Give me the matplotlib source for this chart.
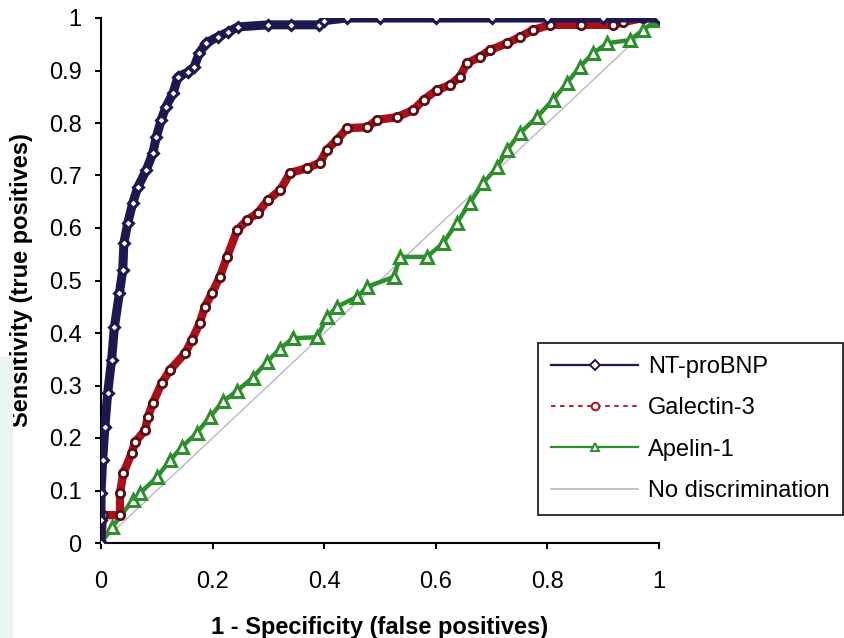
import numpy as np
import matplotlib
matplotlib.use("Agg")
import matplotlib.pyplot as plt
from matplotlib.lines import Line2D
from matplotlib.patches import Rectangle
from matplotlib.ticker import FormatStrFormatter

plt.rcParams['font.family'] = ['Liberation Sans', 'DejaVu Sans']

# ROC curves
nt_x = [0, 0.0, 0.0, 0.003, 0.007, 0.012, 0.019, 0.024, 0.033, 0.039, 0.041, 0.048,
        0.057, 0.066, 0.081, 0.093, 0.099, 0.108, 0.116, 0.129, 0.138, 0.156, 0.167,
        0.176, 0.188, 0.209, 0.227, 0.245, 0.30, 0.34, 0.39, 0.40, 0.44, 0.5, 0.6,
        0.7, 0.8, 0.9, 1.0]
nt_y = [0, 0.044, 0.095, 0.158, 0.221, 0.286, 0.349, 0.411, 0.476, 0.52, 0.571, 0.61,
        0.648, 0.678, 0.71, 0.743, 0.773, 0.806, 0.83, 0.857, 0.888, 0.897, 0.907,
        0.933, 0.952, 0.964, 0.973, 0.983, 0.987, 0.987, 0.987, 0.995, 1.0, 1.0, 1.0,
        1.0, 1.0, 1.0, 1.0]

gal_x = [0, 0.004, 0.034, 0.034, 0.040, 0.055, 0.061, 0.079, 0.084, 0.093, 0.109,
         0.124, 0.151, 0.163, 0.177, 0.186, 0.199, 0.213, 0.226, 0.244, 0.262, 0.281,
         0.299, 0.321, 0.339, 0.369, 0.392, 0.405, 0.423, 0.441, 0.477, 0.495, 0.53,
         0.56, 0.578, 0.602, 0.625, 0.643, 0.656, 0.679, 0.697, 0.728, 0.751, 0.774,
         0.805, 0.86, 0.918, 0.935, 0.971, 1.0]
gal_y = [0, 0.053, 0.053, 0.095, 0.133, 0.171, 0.192, 0.215, 0.24, 0.267, 0.305,
         0.33, 0.362, 0.387, 0.419, 0.45, 0.476, 0.507, 0.545, 0.596, 0.615, 0.629,
         0.653, 0.672, 0.705, 0.714, 0.724, 0.749, 0.768, 0.79, 0.792, 0.806, 0.811,
         0.825, 0.844, 0.863, 0.872, 0.888, 0.914, 0.926, 0.939, 0.952, 0.964, 0.977,
         0.987, 0.987, 0.987, 0.992, 1.0, 1.0]

ap_x = [0, 0.02, 0.057, 0.07, 0.1, 0.124, 0.145, 0.172, 0.195, 0.219, 0.244, 0.272,
        0.297, 0.321, 0.344, 0.387, 0.405, 0.423, 0.459, 0.477, 0.525, 0.536, 0.584,
        0.613, 0.638, 0.661, 0.685, 0.71, 0.728, 0.751, 0.781, 0.81, 0.835, 0.858,
        0.882, 0.907, 0.948, 0.971, 0.996, 1.0]
ap_y = [0, 0.03, 0.082, 0.095, 0.125, 0.158, 0.183, 0.21, 0.24, 0.27, 0.29, 0.315,
        0.345, 0.37, 0.39, 0.392, 0.43, 0.45, 0.469, 0.488, 0.507, 0.545, 0.545,
        0.571, 0.61, 0.648, 0.686, 0.716, 0.749, 0.781, 0.811, 0.844, 0.876, 0.907,
        0.933, 0.952, 0.958, 0.977, 0.996, 1.0]

diag = [0, 1]

labels = ["NT-proBNP", "Galectin-3", "Apelin-1", "No discrimination"]
navy = '#1c1850'
red = '#a8121e'
red_edge = '#5e0a10'
green = '#2f8f2f'
grey = '#b8b8c6'

fig = plt.figure(figsize=(8.44, 6.38), dpi=100)
fig.patches.append(Rectangle((0, 0), 12 / 844, 0.44, transform=fig.transFigure,
                             color='#e8f5f3', zorder=0))
ax = fig.add_axes([101 / 844, 1 - 543 / 638, 558 / 844, 525 / 638])

ax.plot(diag, diag, color=grey, lw=1, zorder=1)
ax.plot(ap_x, ap_y, color=green, lw=3.2, marker='^', ms=9, mfc='white',
        mec=green, mew=2.2, zorder=2)
ax.plot(gal_x, gal_y, color=red, lw=6, marker='o', ms=6, mfc='white',
        mec=red_edge, mew=2, zorder=3)
ax.plot(nt_x, nt_y, color=navy, lw=6.5, marker='D', ms=5.5, mfc='white',
        mec=navy, mew=2.2, zorder=4)

ax.set_xlim(0, 1)
ax.set_ylim(0, 1)
ax.set_xticks(np.arange(0, 1.01, 0.2))
ax.set_yticks(np.arange(0, 1.01, 0.1))
ax.xaxis.set_major_formatter(FormatStrFormatter('%g'))
ax.yaxis.set_major_formatter(FormatStrFormatter('%g'))
for s in ['top', 'right']:
    ax.spines[s].set_visible(False)
for s in ['left', 'bottom']:
    ax.spines[s].set_linewidth(1.5)
ax.tick_params(axis='both', labelsize=17, width=1.5, length=4, direction='out')
ax.tick_params(axis='x', pad=16)
ax.tick_params(axis='y', pad=10)

ax.set_xlabel("1 - Specificity (false positives)", fontsize=17, fontweight='bold',
              labelpad=17)
ax.set_ylabel("Sensitivity (true positives)", fontsize=17, fontweight='bold',
              labelpad=11)

handles = [
    Line2D([], [], color=navy, lw=1.6, marker='D', ms=5.5, mfc='white', mec=navy, mew=1.4),
    Line2D([], [], color=red, lw=1.3, ls=(0, (2.5, 2.5)), marker='o', ms=5.5,
           mfc='white', mec=red, mew=1.4),
    Line2D([], [], color=green, lw=1.6, marker='^', ms=5.5, mfc='white', mec=green, mew=1.4),
    Line2D([], [], color=grey, lw=1.2),
]
leg = fig.legend(handles, labels, loc='lower left',
                 bbox_to_anchor=(538 / 844, 1 - 515 / 638), borderaxespad=0,
                 fontsize=17, handlelength=3.7, handletextpad=0.42,
                 labelspacing=0.82, borderpad=0.55, fancybox=False, framealpha=1,
                 edgecolor='#222222')
leg.get_frame().set_linewidth(1.3)

fig.savefig("out.png", dpi=100)
